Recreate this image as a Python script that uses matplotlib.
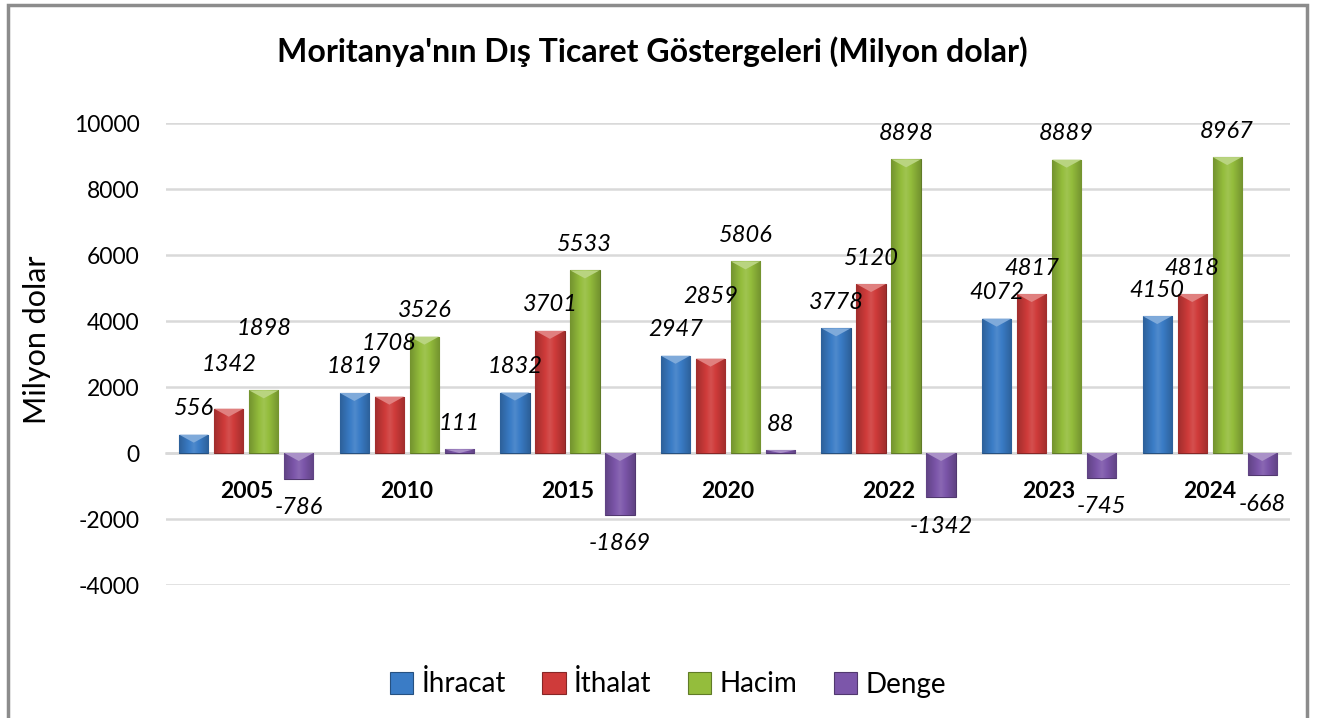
import numpy as np
import matplotlib
matplotlib.use("Agg")
import matplotlib.pyplot as plt
from matplotlib.colors import to_rgb
from matplotlib.patches import Rectangle, Polygon

years = ["2005", "2010", "2015", "2020", "2022", "2023", "2024"]
ihracat = [556, 1819, 1832, 2947, 3778, 4072, 4150]
ithalat = [1342, 1708, 3701, 2859, 5120, 4817, 4818]
hacim = [1898, 3526, 5533, 5806, 8898, 8889, 8967]
denge = [-786, 111, -1869, 88, -1342, -745, -668]

series_names = ["İhracat", "İthalat", "Hacim", "Denge"]
series_values = [ihracat, ithalat, hacim, denge]
colors = ["#3a7cc6", "#cf3b3a", "#94bd3c", "#7c56aa"]

# labels that were moved by hand in the original (series, year) -> lift in px
label_lift = {(1, 0): 44, (2, 0): 62, (1, 1): 53, (1, 3): 62}

plt.rcParams["font.family"] = ["Lato", "DejaVu Sans"]
plt.rcParams["axes.unicode_minus"] = False

fig = plt.figure(figsize=(13.17, 7.18), dpi=100)
ax = fig.add_axes([166 / 1317, 133 / 718, 1124 / 1317, 462 / 718])

ax.set_ylim(-4000, 10000)
ax.set_xlim(-0.5, len(years) - 0.5)
ax.set_yticks(np.arange(-4000, 10001, 2000))
ax.grid(axis="y", color="#d9d9d9", linewidth=1.8)
ax.set_axisbelow(True)
for s in ["top", "right", "left"]:
    ax.spines[s].set_visible(False)
ax.spines["bottom"].set_position(("data", 0))
ax.spines["bottom"].set_color("#d9d9d9")
ax.spines["bottom"].set_linewidth(1.8)

x = np.arange(len(years))
step = 0.218
width = 0.182


def shade(c, f):
    r = np.array(to_rgb(c))
    if f < 0:
        return tuple(r * (1 + f))
    return tuple(r + (1 - r) * f)


px = 14000 / 462  # data units per pixel

for i, (name, vals, col) in enumerate(zip(series_names, series_values, colors)):
    xs = x + (i - 1.5) * step
    bars = ax.bar(xs, vals, width, color=col, edgecolor=shade(col, -0.35),
                  linewidth=0.8, label=name, zorder=3)
    grad = np.array([shade(col, f) for f in np.concatenate(
        [np.linspace(-0.22, 0.1, 20), np.linspace(0.1, -0.22, 20)])])[None, :, :]
    for j, b in enumerate(bars):
        x0, w = b.get_x(), b.get_width()
        y0, h = b.get_y(), b.get_height()
        im = ax.imshow(grad, extent=(x0, x0 + w, y0, y0 + h), aspect="auto",
                       zorder=3.5, interpolation="bicubic")
        im.set_clip_path(b)
        top = max(y0, y0 + h)
        bev = min(8 * px, abs(h))
        ax.add_patch(Polygon([(x0, top), (x0 + w, top), (x0 + w / 2, top - bev)],
                             closed=True, facecolor=shade(col, 0.35),
                             edgecolor="none", zorder=4))
        v = vals[j]
        lift = label_lift.get((i, j), 26)
        ax.annotate(str(v), (b.get_x() + w / 2, v),
                    xytext=(0, lift if v >= 0 else -29), textcoords="offset pixels",
                    ha="center", va="center", fontsize=17, fontstyle="italic",
                    zorder=5)

ax.set_xticks(x)
ax.set_xticklabels(years, fontsize=16.5, fontweight="bold")
ax.tick_params(axis="x", length=0, pad=20)
ax.tick_params(axis="y", length=0, pad=19, labelsize=16.5)

ax.set_ylabel("Milyon dolar", fontsize=22)
ax.yaxis.set_label_coords(-0.102, 0.53)

fig.text(652 / 1317, 1 - 52 / 718, "Moritanya'nın Dış Ticaret Göstergeleri (Milyon dolar)",
         ha="center", va="center", fontsize=23, fontweight="bold")

handles, labels = ax.get_legend_handles_labels()
fig.legend(handles, labels, loc="center", bbox_to_anchor=(668 / 1317, 1 - 684 / 718),
           ncol=4, frameon=False, fontsize=20, handlelength=0.85, handleheight=0.85,
           handletextpad=0.3, columnspacing=1.3)

fig.patches.append(Rectangle((8 / 1317, -0.1), 1299 / 1317, 1.1 - 5 / 718,
                             transform=fig.transFigure, fill=False,
                             edgecolor="#8c8c8c", linewidth=2.5))

fig.savefig("out.png", dpi=100)
